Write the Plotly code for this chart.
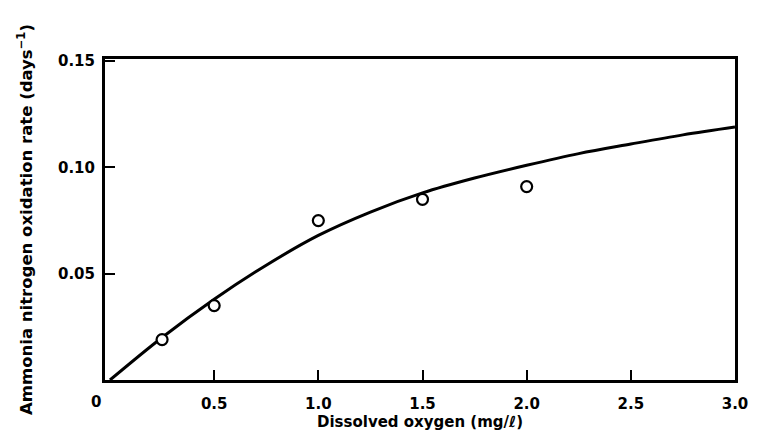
import plotly.graph_objects as go

# Observed data (open circles)
obs_do = [0.25, 0.5, 1.0, 1.5, 2.0]
obs_rate = [0.019, 0.035, 0.075, 0.085, 0.091]

# Fitted curve
curve_do = [0.0, 0.25, 0.5, 0.75, 1.0, 1.25, 1.5, 1.75, 2.0, 2.25, 2.5, 2.75, 3.0]
curve_rate = [0.0, 0.020, 0.038, 0.054, 0.068, 0.079, 0.088, 0.095, 0.101, 0.1065, 0.111, 0.1153, 0.119]

x_ticks = [0.5, 1.0, 1.5, 2.0, 2.5, 3.0]
x_ticklabels = ["0.5", "1.0", "1.5", "2.0", "2.5", "3.0"]
y_ticks = [0.05, 0.10, 0.15]
y_ticklabels = ["0.05", "0.10", "0.15"]

font_family = "DejaVu Sans, Liberation Sans, sans-serif"

fig = go.Figure()
fig.add_trace(go.Scatter(
    x=curve_do, y=curve_rate, mode="lines",
    line=dict(color="black", width=3, shape="spline", smoothing=1.0),
    showlegend=False, hoverinfo="skip"))
fig.add_trace(go.Scatter(
    x=obs_do, y=obs_rate, mode="markers",
    marker=dict(symbol="circle", size=11, color="white",
                line=dict(color="black", width=2.2)),
    showlegend=False))

tick_font = dict(family=font_family, size=15, color="black", weight="bold")

fig.update_layout(
    width=760, height=440,
    margin=dict(l=105, r=15, t=59, b=56),
    paper_bgcolor="white", plot_bgcolor="white",
    font=dict(family=font_family, size=14, color="black"),
    xaxis=dict(
        range=[-0.024, 3.0], tickvals=x_ticks, ticktext=x_ticklabels,
        ticks="inside", ticklen=10, tickwidth=2, tickcolor="black",
        showline=True, linewidth=3, linecolor="black", mirror=True,
        showgrid=False, zeroline=False, ticklabelstandoff=8,
        tickfont=tick_font,
        title=dict(text="Dissolved oxygen (mg/ℓ)",
                   font=dict(family=font_family, size=15, weight="bold"), standoff=4),
    ),
    yaxis=dict(
        range=[0, 0.151], tickvals=y_ticks, ticktext=y_ticklabels,
        ticks="inside", ticklen=10, tickwidth=2, tickcolor="black",
        showline=True, linewidth=3, linecolor="black", mirror=True,
        showgrid=False, zeroline=False, ticklabelstandoff=4,
        tickfont=tick_font,
        title=dict(text="Ammonia nitrogen oxidation rate (days<sup>−1</sup>)",
                   font=dict(family=font_family, size=16.5, weight="bold"), standoff=22),
    ),
)

# Origin label "0"
fig.add_annotation(x=0, y=0, xref="x", yref="y", text="0",
                   showarrow=False, xshift=-14, yshift=-22,
                   font=tick_font)

fig.write_html("out.html")
